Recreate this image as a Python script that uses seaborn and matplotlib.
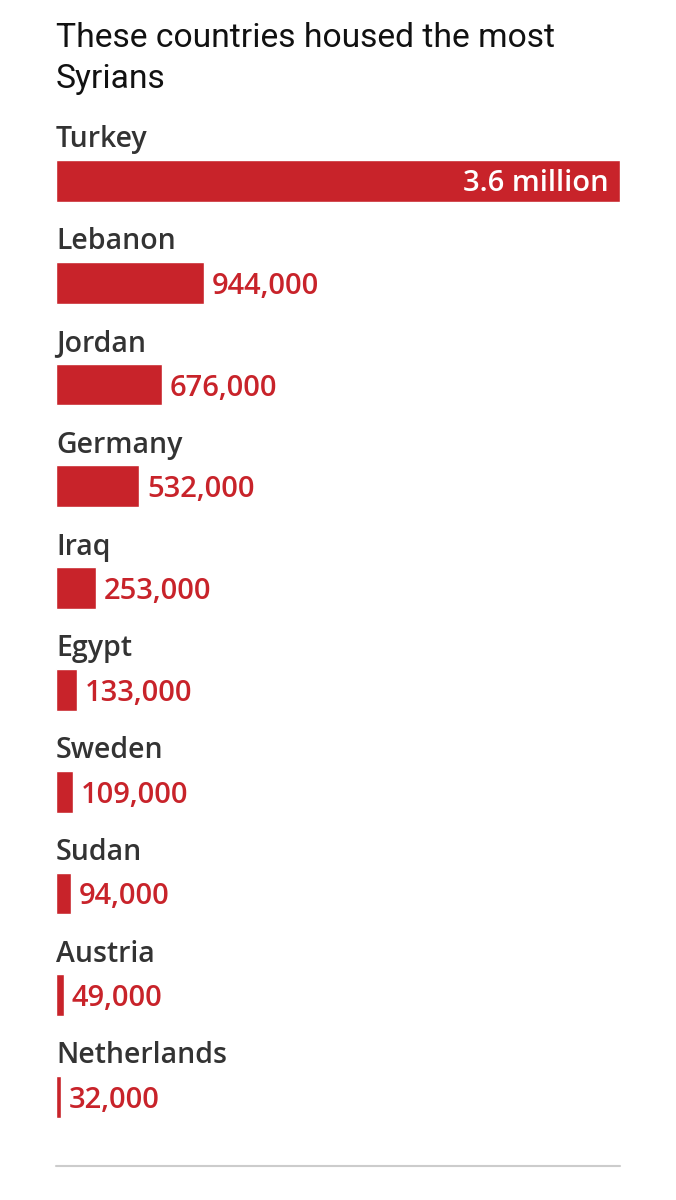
import matplotlib
matplotlib.use("Agg")
import matplotlib.pyplot as plt
import seaborn as sns
import pandas as pd

countries = ["Turkey", "Lebanon", "Jordan", "Germany", "Iraq", "Egypt",
             "Sweden", "Sudan", "Austria", "Netherlands"]
refugees = [3600000, 944000, 676000, 532000, 253000, 133000,
            109000, 94000, 49000, 32000]
value_labels = ["3.6 million", "944,000", "676,000", "532,000", "253,000",
                "133,000", "109,000", "94,000", "49,000", "32,000"]

red = "#c8232a"
dark = "#333333"

sns.set_style("white")
plt.rcParams["font.family"] = ["Open Sans", "DejaVu Sans"]

df = pd.DataFrame({"country": countries, "refugees": refugees})

fig = plt.figure(figsize=(6.76, 12), dpi=100)
W, H = 676, 1200
# axes placed in pixels: x 56..620, category centres 181..1097
top_px, bot_px = 181 - 50.9, 1097 + 50.9
ax = fig.add_axes([56 / W, 1 - bot_px / H, 564 / W, (bot_px - top_px) / H])

sns.barplot(data=df, x="refugees", y="country", orient="h", color=red,
            width=0.41, saturation=1, ax=ax)
ax.set_xlim(0, refugees[0])
ax.set_ylim(9.5, -0.5)
ax.axis("off")

for i, (c, v, lab) in enumerate(zip(countries, refugees, value_labels)):
    ax.text(0, i - 0.33, c, fontsize=20.5, fontweight="semibold", color=dark,
            ha="left", va="baseline")
    if i == 0:
        ax.annotate(lab, (v, i), xytext=(-8, -1.5), textcoords="offset points",
                    ha="right", va="center", fontsize=21,
                    fontweight="semibold", color="white")
    else:
        ax.annotate(lab, (v, i), xytext=(5.5, -2.5), textcoords="offset points",
                    ha="left", va="center", fontsize=21,
                    fontweight="semibold", color=red)

fig.text(56 / W, 1 - 47 / H, "These countries housed the most",
         family=["Roboto", "DejaVu Sans"], fontsize=24.2, color="#111111",
         ha="left", va="baseline")
fig.text(56 / W, 1 - 88 / H, "Syrians",
         family=["Roboto", "DejaVu Sans"], fontsize=24.2, color="#111111",
         ha="left", va="baseline")

fig.add_artist(plt.Line2D([56 / W, 620 / W], [1 - 1166 / H, 1 - 1166 / H],
                          color="#cccccc", linewidth=1.5))

fig.savefig("out.png", dpi=100, facecolor="white")
